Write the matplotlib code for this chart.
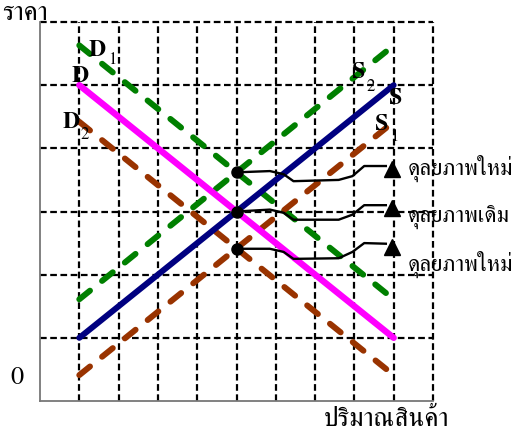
import matplotlib
matplotlib.use('Agg')
import matplotlib.pyplot as plt

# ปริมาณ (แกน x) และราคา (แกน y) ของแต่ละเส้น
q = [1, 9]
demand = [5.0, 1.0]
supply = [1.0, 5.0]
demand1 = [5.63, 1.61]
supply2 = [1.61, 5.63]
demand2 = [4.42, 0.41]
supply1 = [0.41, 4.42]

# จุดดุลยภาพ
eq_q = [5, 5, 5]
eq_p = [3.62, 3.0, 2.41]

# เส้นโยงไปยังคำอธิบาย
link_x = [5.0, 5.85, 6.2, 6.45, 7.6, 7.95, 8.25, 8.8]
link_top = [3.62, 3.64, 3.59, 3.48, 3.50, 3.56, 3.72, 3.72]
link_mid = [3.0, 3.03, 2.98, 2.87, 2.87, 2.95, 3.1, 3.1]
link_low = [2.41, 2.41, 2.36, 2.25, 2.26, 2.36, 2.5, 2.49]
arrow_x = 8.96
arrow_y = [3.67, 3.05, 2.44]
labels = ['ดุลยภาพใหม่', 'ดุลยภาพเดิม', 'ดุลยภาพใหม่']

W, H = 526, 441
fig = plt.figure(figsize=(W / 100, H / 100), dpi=100)
ax = fig.add_axes([40 / W, 40 / H, 393 / W, 379 / H])
ax.set_xlim(0, 10)
ax.set_ylim(0, 6)

ax.set_xticks(range(1, 11))
ax.set_yticks(range(1, 7))
ax.tick_params(length=0, labelbottom=False, labelleft=False)
ax.grid(True, color='black', linestyle=(0, (3, 1.6)), linewidth=1.6)
for gl in ax.get_xgridlines() + ax.get_ygridlines():
    gl.set_clip_on(False)
for side in ['top', 'right']:
    ax.spines[side].set_visible(False)
for side in ['left', 'bottom']:
    ax.spines[side].set_color('#777777')
    ax.spines[side].set_linewidth(1.3)

dash = dict(linestyle=(0, (2.3, 2.6)), dash_capstyle='round', linewidth=4.3)
ax.plot(q, demand1, color='#008000', **dash)
ax.plot(q, supply2, color='#008000', **dash)
ax.plot(q, demand2, color='#993300', **dash)
ax.plot(q, supply1, color='#993300', **dash)
ax.plot(q, demand, color='#FF00FF', linewidth=4.6, solid_capstyle='round')
ax.plot(q, supply, color='#000080', linewidth=4.3, solid_capstyle='round')

for ly in [link_top, link_mid, link_low]:
    ax.plot(link_x, ly, color='black', linewidth=1.7, clip_on=False)
ax.plot([arrow_x] * 3, arrow_y, linestyle='none', marker='^', markersize=12,
        color='black', clip_on=False)
ax.plot(eq_q, eq_p, linestyle='none', marker='o', markersize=8, color='black')


def px(x, y):
    return x / W, 1 - y / H


thai = dict(family=['FreeSerif', 'DejaVu Sans'])
serif_b = dict(family=['FreeSerif', 'DejaVu Serif'], fontweight='bold', fontsize=17, zorder=10)
serif_s = dict(family=['FreeSerif', 'DejaVu Serif'], fontsize=12, zorder=10)

ly_text = [168, 217, 264]
for lab, yy in zip(labels, ly_text):
    fig.text(*px(408, yy), lab, fontsize=16.5, ha='left', va='center', **thai)

fig.text(*px(2, 14), 'ราคา', fontsize=19, ha='left', va='center', **thai)
fig.text(*px(386, 420), 'ปริมาณสินค้า', fontsize=19, ha='center', va='center', **thai)
fig.text(*px(17, 378), '0', fontsize=19, ha='center', va='center',
         family=['FreeSerif', 'DejaVu Serif'])

# ชื่อเส้น
fig.text(*px(97, 50), 'D', ha='center', va='center', **serif_b)
fig.text(*px(112, 60), '1', ha='center', va='center', **serif_s)
fig.text(*px(80, 76), 'D', ha='center', va='center', **serif_b)
fig.text(*px(71, 122), 'D', ha='center', va='center', **serif_b)
fig.text(*px(85, 135), '2', ha='center', va='center', **serif_s)
fig.text(*px(359, 73), 'S', ha='center', va='center', **serif_b)
fig.text(*px(371, 87), '2', ha='center', va='center', **serif_s)
fig.text(*px(396, 98), 'S', ha='center', va='center', **serif_b)
fig.text(*px(382, 124), 'S', ha='center', va='center', **serif_b)
fig.text(*px(394, 137), '1', ha='center', va='center', **serif_s)

fig.savefig('out.png', dpi=100)
